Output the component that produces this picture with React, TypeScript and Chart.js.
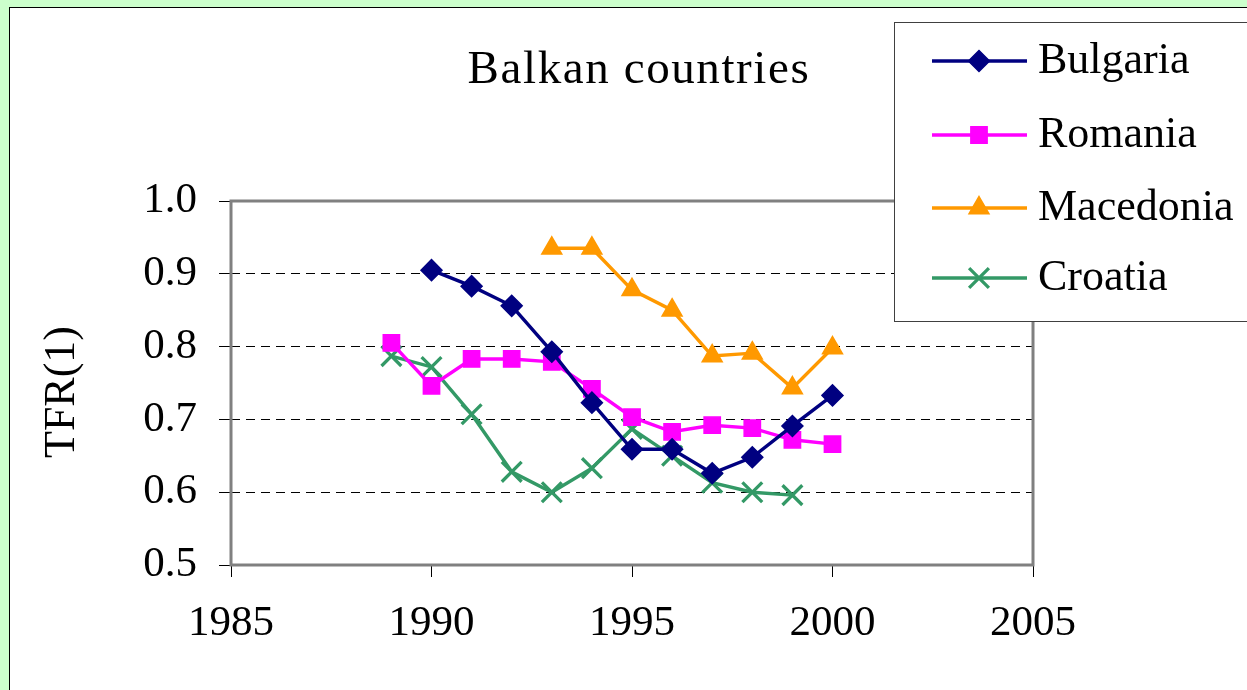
import React, { useEffect, useRef } from "react";
import { Chart, registerables } from "chart.js";
import { drawPoint } from "chart.js/helpers";

Chart.register(...registerables);

const chartTitle = "Balkan countries";
const yAxisTitle = "TFR(1)";

const bulgariaYears = [1990, 1991, 1992, 1993, 1994, 1995, 1996, 1997, 1998, 1999, 2000];
const bulgariaValues = [0.905, 0.883, 0.856, 0.793, 0.723, 0.659, 0.659, 0.626, 0.648, 0.691, 0.733];

const romaniaYears = [1989, 1990, 1991, 1992, 1993, 1994, 1995, 1996, 1997, 1998, 1999, 2000];
const romaniaValues = [0.805, 0.746, 0.783, 0.783, 0.779, 0.742, 0.703, 0.683, 0.692, 0.688, 0.672, 0.666];

const macedoniaYears = [1993, 1994, 1995, 1996, 1997, 1998, 1999, 2000];
const macedoniaValues = [0.935, 0.935, 0.878, 0.85, 0.787, 0.791, 0.743, 0.798];

const croatiaYears = [1989, 1990, 1991, 1992, 1993, 1994, 1995, 1996, 1997, 1998, 1999];
const croatiaValues = [0.787, 0.772, 0.707, 0.628, 0.6, 0.633, 0.687, 0.65, 0.613, 0.6, 0.596];

const xTicks = [1985, 1990, 1995, 2000, 2005];
const yTicks = [0.5, 0.6, 0.7, 0.8, 0.9, 1.0];

const FONT = "'Liberation Serif', 'Times New Roman', serif";

const pts = (xs: number[], ys: number[]) => xs.map((x, i) => ({ x, y: ys[i] }));

const framePlugin = {
  id: "framePlugin",
  beforeDraw(chart: any) {
    const { ctx, width, height } = chart;
    ctx.save();
    ctx.fillStyle = "#CCFFCC";
    ctx.fillRect(0, 0, width, height);
    ctx.fillStyle = "#FFFFFF";
    ctx.fillRect(9.5, 7.5, width, height);
    ctx.strokeStyle = "#000000";
    ctx.lineWidth = 1;
    ctx.strokeRect(9.5, 7.5, width + 10, height + 10);
    ctx.restore();
  },
  beforeDatasetsDraw(chart: any) {
    const { ctx, chartArea } = chart;
    ctx.save();
    ctx.strokeStyle = "#808080";
    ctx.lineWidth = 3;
    ctx.strokeRect(chartArea.left, chartArea.top, chartArea.right - chartArea.left, chartArea.bottom - chartArea.top);
    ctx.restore();
  },
  afterDraw(chart: any) {
    const { ctx } = chart;
    ctx.save();
    // title
    ctx.fillStyle = "#000";
    ctx.font = `47px ${FONT}`;
    (ctx as any).letterSpacing = "1.6px";
    ctx.textAlign = "center";
    ctx.textBaseline = "alphabetic";
    ctx.fillText(chartTitle, 639, 83);
    (ctx as any).letterSpacing = "0px";
    // y axis title
    ctx.save();
    ctx.translate(62, 392);
    ctx.rotate(-Math.PI / 2);
    ctx.font = `44px ${FONT}`;
    ctx.textAlign = "center";
    ctx.textBaseline = "middle";
    ctx.fillText(yAxisTitle, 0, 0);
    ctx.restore();
    // legend box
    ctx.fillStyle = "#FFFFFF";
    ctx.fillRect(894.5, 22.5, 400, 299);
    ctx.strokeStyle = "#404040";
    ctx.lineWidth = 1;
    ctx.strokeRect(894.5, 22.5, 400, 299);
    const rows = [61, 135, 208, 278];
    chart.data.datasets.forEach((ds: any, i: number) => {
      const y = rows[i];
      ctx.strokeStyle = ds.borderColor;
      ctx.lineWidth = 3.3;
      ctx.beginPath();
      ctx.moveTo(932, y);
      ctx.lineTo(1027, y);
      ctx.stroke();
      ctx.fillStyle = ds.pointBackgroundColor;
      ctx.strokeStyle = ds.pointBorderColor;
      ctx.lineWidth = ds.pointBorderWidth;
      drawPoint(ctx, { pointStyle: ds.pointStyle, radius: ds.pointRadius, rotation: 0, borderWidth: ds.pointBorderWidth }, 979, y);
      ctx.fillStyle = "#000";
      ctx.font = `44px ${FONT}`;
      ctx.textAlign = "left";
      ctx.textBaseline = "middle";
      ctx.fillText(ds.label, 1038, y);
    });
    ctx.restore();
  },
};

export default function App() {
  const ref = useRef<HTMLCanvasElement>(null);
  useEffect(() => {
    document.body.style.margin = "0";
    const datasets = [
      { label: "Bulgaria", data: pts(bulgariaYears, bulgariaValues), color: "#000080", style: "rectRot", r: 10.5, bw: 1.5 },
      { label: "Romania", data: pts(romaniaYears, romaniaValues), color: "#FF00FF", style: "rect", r: 11.5, bw: 1.5 },
      { label: "Macedonia", data: pts(macedoniaYears, macedoniaValues), color: "#FF9900", style: "triangle", r: 11.5, bw: 1.5 },
      { label: "Croatia", data: pts(croatiaYears, croatiaValues), color: "#339966", style: "crossRot", r: 14, bw: 3.3 },
    ].map((d) => ({
      label: d.label,
      data: d.data,
      borderColor: d.color,
      backgroundColor: d.color,
      pointBackgroundColor: d.color,
      pointBorderColor: d.color,
      pointStyle: d.style,
      pointRadius: d.r,
      pointBorderWidth: d.bw,
      borderWidth: 3.4,
      tension: 0,
    }));
    const chart = new Chart(ref.current!, {
      type: "line",
      data: { datasets: datasets as any },
      options: {
        animation: false,
        responsive: false,
        maintainAspectRatio: false,
        layout: { padding: { left: 0, top: 201, right: 214, bottom: 0 } },
        plugins: { legend: { display: false }, title: { display: false }, tooltip: { enabled: false } },
        scales: {
          x: {
            type: "linear",
            min: 1985,
            max: 2005,
            afterFit: (s: any) => { s.height = 125; },
            afterBuildTicks: (s: any) => { s.ticks = xTicks.map((v) => ({ value: v })); },
            ticks: { color: "#000", font: { family: FONT, size: 43 }, padding: 21, maxRotation: 0, callback: (v: any) => String(v) },
            grid: { drawOnChartArea: false, tickLength: 12, tickColor: "#000", tickWidth: 1 },
            border: { display: false },
          },
          y: {
            type: "linear",
            min: 0.5,
            max: 1.0,
            afterFit: (s: any) => { s.width = 231; },
            afterBuildTicks: (s: any) => { s.ticks = yTicks.map((v) => ({ value: v })); },
            ticks: { color: "#000", font: { family: FONT, size: 43 }, padding: 22, callback: (v: any) => Number(v).toFixed(1) },
            grid: {
              color: (c: any) => (c.tick && (Math.abs(c.tick.value - 0.5) < 1e-6 || Math.abs(c.tick.value - 1) < 1e-6) ? "rgba(0,0,0,0)" : "#000"),
              lineWidth: 1,
              tickLength: 12,
              tickColor: "#000",
              tickWidth: 1,
              tickBorderDash: [],
            },
            border: { display: false, dash: [9, 6] },
          },
        },
      },
      plugins: [framePlugin],
    });
    return () => chart.destroy();
  }, []);
  return (
    <div style={{ position: "absolute", left: 0, top: 0, width: 1247, height: 690 }}>
      <canvas ref={ref} width={1247} height={690} style={{ width: 1247, height: 690 }} />
    </div>
  );
}
